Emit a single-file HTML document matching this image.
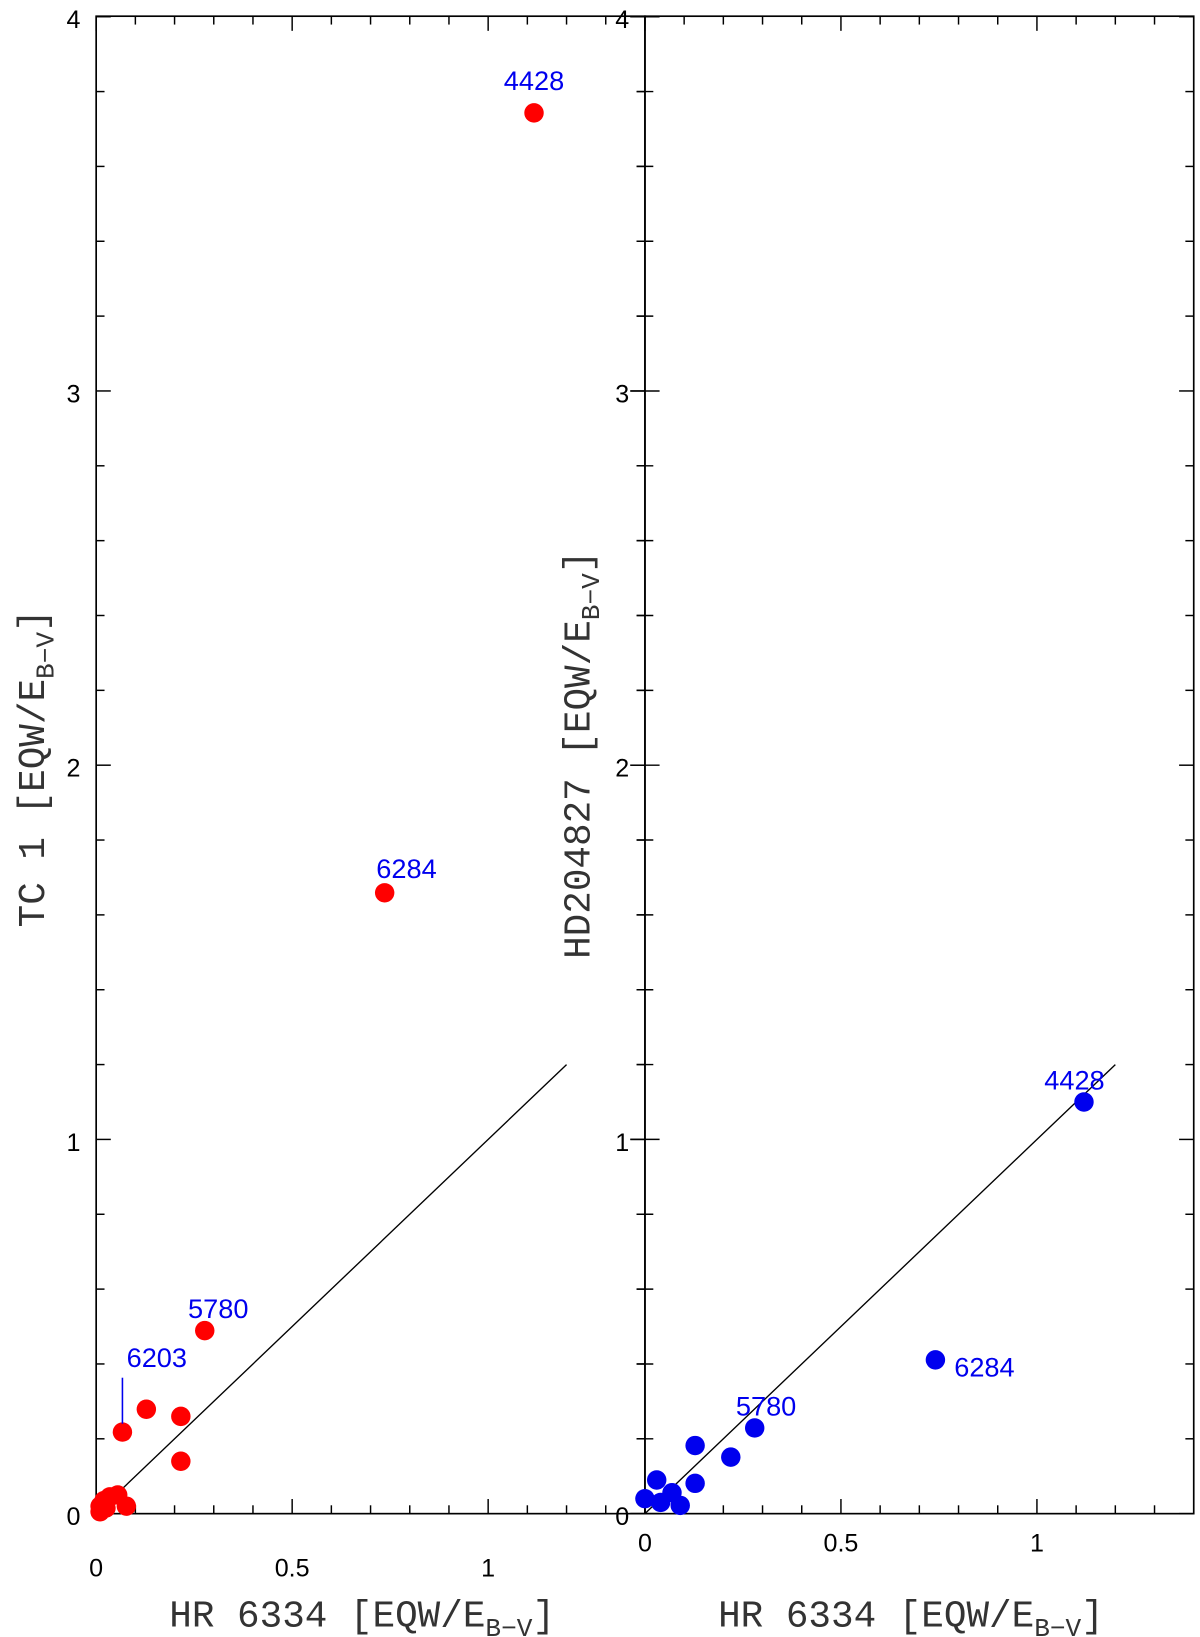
<!DOCTYPE html>
<html><head><meta charset="utf-8"><style>
html,body{margin:0;padding:0;background:#fff}
svg{display:block}
.tl{font-family:"Liberation Sans",sans-serif;font-size:24px;fill:#000}
.al{font-family:"Liberation Mono",monospace;font-size:36px;fill:#333}
.lb{font-family:"Liberation Sans",sans-serif;font-size:26px;fill:#0000ee}
</style></head><body>
<svg id="chart" width="1200" height="1637" viewBox="0 0 1148 1566" preserveAspectRatio="none" xmlns="http://www.w3.org/2000/svg">
<g id="g"></g>
</svg>
<script>
const leftX=[0.01,0.02,0.035,0.055,0.01,0.025,0.077,0.067,0.128,0.216,0.216,0.277,0.736,1.117];
const leftY=[0.02,0.035,0.045,0.05,0.005,0.015,0.02,0.218,0.279,0.26,0.14,0.489,1.659,3.743];
const rightX=[0.0,0.03,0.04,0.069,0.09,0.128,0.128,0.219,0.28,0.741,1.12];
const rightY=[0.04,0.09,0.03,0.056,0.022,0.081,0.182,0.151,0.229,0.411,1.10];
const leftLabels=[{t:"4428",i:13,dx:0,dy:-22,a:"middle"},{t:"6284",i:12,dx:-8,dy:-14,a:"start"},{t:"5780",i:11,dx:-16,dy:-12,a:"start"},{t:"6203",i:7,dx:4,dy:-62,a:"start"}];
const rightLabels=[{t:"4428",i:10,dx:-38,dy:-12,a:"start"},{t:"6284",i:9,dx:18,dy:16,a:"start"},{t:"5780",i:8,dx:-18,dy:-12,a:"start"}];
const xTicks=["0","0.5","1"];
const yTicks=["0","1","2","3","4"];
const fitLine=[0,1.2];

const NS="http://www.w3.org/2000/svg";
const G=document.getElementById('g');
function el(tag,attrs,parent){const e=document.createElementNS(NS,tag);for(const k in attrs)e.setAttribute(k,attrs[k]);(parent||G).appendChild(e);return e;}
const Y0=1448,YS=358,XS=375,TOP=15.5;
const yPix=v=>Y0-v*YS;
function panel(x0,name,xs,ys,labels,color,leftAxisBoth,tickLabelY,yLabX,yLabText){
  const xPix=v=>x0+v*XS;
  const right=x0+1.4*XS;
  const grp=el('g',{});
  
  
  const frame=el('rect',{x:x0,y:TOP,width:right-x0,height:Y0-TOP,fill:'none',stroke:'#000','stroke-width':1.6},grp);
  
  
  for(let k=0;k<=20;k++){const v=k*0.2;const y=yPix(v);const L=(k%5==0)?14:8;
    el('line',{x1:leftAxisBoth?x0-L:x0,x2:x0+L,y1:y,y2:y,stroke:'#000','stroke-width':1.4},grp);
    el('line',{x1:right-L,x2:right,y1:y,y2:y,stroke:'#000','stroke-width':1.4},grp);}
  for(let k=0;k<=14;k++){const v=k*0.1;const x=xPix(v);const L=(k%5==0)?14:8;
    el('line',{x1:x,x2:x,y1:Y0,y2:Y0-L,stroke:'#000','stroke-width':1.4},grp);
    el('line',{x1:x,x2:x,y1:TOP,y2:TOP+L,stroke:'#000','stroke-width':1.4},grp);}
  yTicks.forEach(t=>{const e=el('text',{x:x0-15,y:yPix(+t)+11,'text-anchor':'end',class:'tl'},grp);e.textContent=t;
    });
  xTicks.forEach(t=>{const e=el('text',{x:xPix(+t),y:tickLabelY,'text-anchor':'middle',class:'tl'},grp);e.textContent=t;
    });
  const ln=el('line',{x1:xPix(fitLine[0]),y1:yPix(fitLine[0]),x2:xPix(fitLine[1]),y2:yPix(fitLine[1]),stroke:'#000','stroke-width':1.3},grp);
  
  xs.forEach((v,i)=>{const c=el('circle',{cx:xPix(v),cy:yPix(ys[i]),r:9.3,fill:color},grp);
    });
  labels.forEach(l=>{const px=xPix(xs[l.i]),py=yPix(ys[l.i]);
    const e=el('text',{x:px+l.dx,y:py+l.dy,'text-anchor':l.a,class:'lb'},grp);e.textContent=l.t;
    
    if(l.t==="6203"){const s=el('line',{x1:px,x2:px,y1:py-8,y2:py+l.dy+10,stroke:'#0000ee','stroke-width':1.5},grp);
      }});
  const xt=el('text',{x:(x0+right)/2-8,y:1556,'text-anchor':'middle',class:'al'},grp);
  xt.innerHTML='HR 6334 [EQW/E<tspan font-size="25" dy="9">B−V</tspan><tspan dy="-9">]</tspan>';
  
  const yt=el('text',{x:0,y:0,'text-anchor':'middle',class:'al',transform:`translate(${yLabX},${yLabText.cy}) rotate(-90)`},grp);
  yt.innerHTML=yLabText.t+' [EQW/E<tspan font-size="25" dy="9">B−V</tspan><tspan dy="-9">]</tspan>';
  
}
panel(92,'left-panel',leftX,leftY,leftLabels,'#ff0000',false,1508,42,{t:'TC 1',cy:735});
panel(617,'right-panel',rightX,rightY,rightLabels,'#0000ee',true,1484,564,{t:'HD204827',cy:722});
</script>
</body></html>
